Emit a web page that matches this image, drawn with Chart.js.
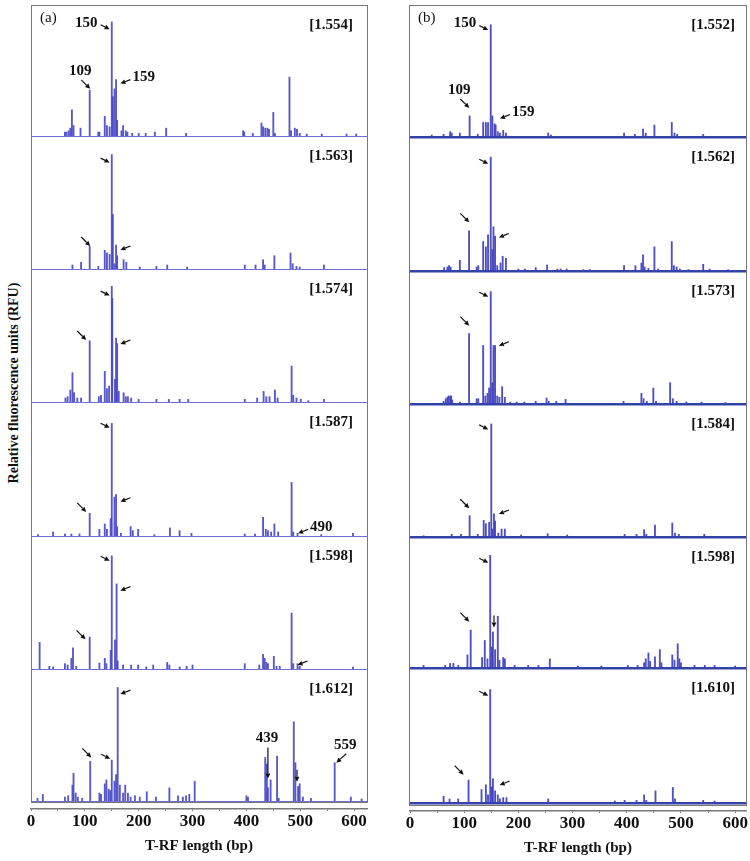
<!DOCTYPE html>
<html>
<head>
<meta charset="utf-8">
<title>T-RF profiles</title>
<script src="https://cdn.jsdelivr.net/npm/chart.js@4.4.1/dist/chart.umd.min.js"></script>
<style>
  body { margin: 0; background: #fff; }
  #fig { position: relative; width: 750px; height: 861px; overflow: hidden; background: #fff; }
  #fig canvas { position: absolute; }
  .frame { position: absolute; border: 1.5px solid #767676; box-sizing: border-box; pointer-events: none; }
  #ytitle {
    position: absolute; left: 14px; top: 383px;
    transform: translate(-50%, -50%) rotate(-90deg);
    white-space: nowrap; font: bold 14px "Liberation Serif", serif; color: #111;
  }
</style>
</head>
<body>
<div id="fig">
  <div id="ytitle">Relative fluorescence units (RFU)</div>
</div>
<script>
// T-RF length axis (bp)
const bpTicks = [0, 100, 200, 300, 400, 500, 600];
const bpMinorStep = 50;

// index shown in the corner of each profile
const tagsA = ['[1.554]', '[1.563]', '[1.574]', '[1.587]', '[1.598]', '[1.612]'];
const tagsB = ['[1.552]', '[1.562]', '[1.573]', '[1.584]', '[1.598]', '[1.610]'];

// peaks: [T-RF length (bp), relative fluorescence (% of panel height)]
// column (a)
const a1 = [[63,3],[66,3],[70,4],[73,6],[76,20],[79,8],[92,6],[109,35],[125,3],[127,3],[137,15],[141,8],[146,7],[150,87],[152,30],[155,36],[158,43],[160,12],[168,4],[171,8],[176,4],[179,3],[188,2],[200,2],[213,2],[230,3],[251,6],[288,2],[394,4],[396,3],[412,2],[428,10],[431,7],[435,6],[439,6],[442,5],[450,18],[453,2],[480,45],[483,4],[490,6],[494,5],[499,2],[512,1.5],[540,1.5],[586,1.5],[604,1.5]];
const a2 = [[77,3],[93,5],[109,17],[125,2],[137,14],[141,12],[146,11],[150,86],[152,41],[155,4],[158,18],[160,10],[172,7],[177,5],[202,1.5],[233,2],[253,3],[290,1.5],[397,3],[417,3],[431,7],[434,3],[452,10],[482,12],[486,4],[493,2],[499,1.5],[544,3]];
const a3 = [[64,3],[68,4],[73,9],[77,22],[80,7],[86,3],[93,3],[109,46],[126,4],[130,5],[137,23],[141,10],[145,12],[150,87],[151,78],[156,17],[158,48],[160,44],[163,8],[172,7],[176,4],[180,4],[186,3],[200,2],[233,2],[256,2],[276,2],[292,2],[397,2],[420,3],[432,8],[437,4],[443,4],[453,9],[458,3],[484,27],[487,5],[493,3],[501,2],[515,1],[544,2]];
const a4 = [[13,1],[41,3],[63,1.5],[75,1.5],[90,1.5],[109,17],[127,5],[137,9],[141,5],[148,13],[150,84],[155,29],[158,31],[160,7],[167,2],[185,7],[189,4],[199,5],[229,1],[258,6],[276,4],[298,2],[397,1.5],[416,1.5],[431,14],[436,5],[440,4],[446,3],[452,9],[459,3],[484,40],[487,3],[495,2],[539,1],[598,2]];
const a5 = [[16,20],[34,2],[41,1.5],[63,4],[68,3],[75,8],[78,16],[84,2],[109,24],[127,4.5],[137,8],[140,4],[148,14],[150,85],[156,22],[159,64],[161,6],[171,3],[186,3],[199,3],[214,1.5],[227,3],[253,5],[257,3],[276,1.5],[289,2],[300,3],[397,4],[424,3],[431,11],[434,8],[437,5],[440,4],[451,9.5],[456,2],[462,2],[484,42],[487,4],[495,4],[499,2],[598,1.5]];
const a6 = [[12,2],[22,5],[63,3],[69,4],[77,12],[79,21],[83,6],[87,3],[95,2],[110,30],[127,6],[130,5],[137,13],[140,16],[144,9],[147,8],[150,31],[155,15],[158,20],[161,86],[165,12],[171,6],[175,12],[180,6],[185,3],[193,4],[202,3],[215,7],[232,3],[257,10],[273,4],[282,3],[288,4],[294,5],[304,15],[400,4],[403,3],[435,33],[438,28],[440,10],[445,16],[457,34],[460,2],[488,60],[491,29],[496,11],[499,13],[505,3],[520,2],[564,29],[594,3],[614,1.5]];
// column (b)
const b1 = [[40,1.5],[62,2],[74,4],[77,3],[92,3],[110,16],[125,2],[135,11],[140,11],[144,11],[149,85],[152,16],[156,10],[158,9],[162,4],[166,3],[172,5],[177,3],[255,3],[260,1.5],[395,3],[415,2],[430,6],[435,3],[451,9],[483,11],[488,3],[493,2],[541,2]];
const b2 = [[63,2.5],[69,3],[72,4],[75,3],[92,8],[109,30],[123,3],[126,4],[135,22],[140,18],[144,27],[149,85],[152,16],[154,33],[157,26],[161,4],[167,6],[171,11],[177,9.5],[200,1.5],[212,1.5],[232,2.5],[253,4.5],[272,1.5],[278,1.5],[289,1.5],[320,1],[332,1],[395,4],[416,4],[427,6],[430,12],[433,3],[440,2],[451,18],[458,1.5],[483,22],[487,4],[492,3],[498,1.5],[514,1],[541,5],[553,1.5],[587,1]];
const b3 = [[62,2],[66,4],[69,5],[71,6],[74,6],[76,6],[78,3],[92,1.5],[109,53],[123,4],[126,4],[135,44],[139,6],[143,8],[146,12],[149,84.5],[152,16],[154,44],[157,44],[161,6],[165,5],[170,13],[175,5],[185,1.5],[197,1.5],[211,1.5],[232,2],[252,4.5],[256,2],[270,2],[287,3.5],[394,2],[427,8],[431,4],[437,2],[449,12],[454,2],[480,16],[485,4],[492,2],[510,1.5],[538,1.5],[582,1]];
const b4 = [[25,1],[77,2],[94,2],[110,16],[125,2],[136,12.5],[140,10],[146,11],[150,85],[152,6],[155,17.5],[157,12],[163,3],[169,6],[175,6],[205,1.5],[254,2.5],[290,1.5],[396,2],[418,2],[432,5.5],[436,2],[452,9],[484,10.5],[489,3],[496,2],[543,2]];
const b5 = [[25,2],[65,2],[74,3.5],[80,3.5],[89,2],[106,10],[112,29],[133,8],[138,21],[143,7],[148,86],[151,16],[153,27.5],[157,14],[162,39.5],[165,6],[172,8],[175,7],[193,2],[218,2],[237,2],[258,7],[310,1.5],[353,1.5],[402,2],[420,2],[432,4],[435,7],[440,11.5],[443,5],[452,8.5],[461,14],[464,4],[484,10],[488,6],[494,18.5],[497,7],[500,4],[525,2],[544,2],[562,2],[600,1.5]];
const b6 = [[62,5],[73,3],[89,3],[108,17],[132,10],[140,13.5],[144,6],[148,84],[151,12],[153,18],[157,9],[162,6],[166,3],[172,4],[178,4],[255,3],[378,1.5],[396,2],[418,2],[432,6],[436,2],[453,9],[485,11.5],[489,3],[541,2],[562,1.5]];

// arrows: [bp at tip, rfu at tip, kind, label, label side]
const a1Arrows = [[146,81.5,'ul2','150','left'],[110,36,'ul','109','above'],[166,40,'r','159','right']];
const a2Arrows = [[146,80,'ul2'],[110,17.3,'ul'],[166,14.3,'r']];
const a3Arrows = [[146,80,'ul2'],[102.6,46.6,'ul'],[166,43.6,'r']];
const a4Arrows = [[146,80.8,'ul2'],[102.6,18,'ul'],[166,25.6,'r'],[496,2,'r','490','right']];
const a5Arrows = [[146,81.4,'ul2'],[166,58.9,'r'],[101.3,22.3,'ul'],[495,3,'r']];
const a6Arrows = [[112,33,'ul'],[147,32,'ul2'],[166,81,'r'],[440,17,'dl','439','above'],[494,14.6,'d'],[567,29,'ur','559','above']];
const b1Arrows = [[144.4,81,'ul2','150','left'],[109.4,22,'ul','109','above'],[166,14,'r','159','right']];
const b2Arrows = [[144.4,80,'ul2'],[109.4,36.3,'ul'],[164,25,'r']];
const b3Arrows = [[144.4,80.7,'ul2'],[109.4,58.9,'ul'],[164,43.8,'r']];
const b4Arrows = [[144.4,80.9,'ul2'],[109.4,21.6,'ul'],[164,17.3,'r']];
const b5Arrows = [[144.4,80.4,'ul2'],[109.4,35.4,'ul'],[155,31,'d']];
const b6Arrows = [[144.4,79.5,'ul2'],[99,21,'ul'],[165.4,13.3,'r']];

const serif = '"Liberation Serif", "DejaVu Serif", serif';
Chart.defaults.font.family = serif;
Chart.defaults.color = '#111';

// page layout of the two columns
const columns = [
  {
    letter: '(a)', tags: tagsA, left: 31, width: 336, max: 624, top: 5,
    baselines: [136, 269, 402, 536, 669, 801],
    peaks: [a1, a2, a3, a4, a5, a6],
    arrows: [a1Arrows, a2Arrows, a3Arrows, a4Arrows, a5Arrows, a6Arrows],
    barColor: 'rgba(70,70,196,0.9)', baseColor: 'rgba(96,96,206,0.9)', baseWidth: 1,
    tagInset: 14, letterInset: 9,
    axis: { canvasLeft: 0, canvasWidth: 385, line: 809, tick: 2, titlePad: 5.6, bottomPad: 6 },
    frame: [30.5, 4.5, 337, 798]
  },
  {
    letter: '(b)', tags: tagsB, left: 410, width: 336, max: 620, top: 5,
    baselines: [137, 271, 404, 537, 668, 803],
    peaks: [b1, b2, b3, b4, b5, b6],
    arrows: [b1Arrows, b2Arrows, b3Arrows, b4Arrows, b5Arrows, b6Arrows],
    barColor: 'rgba(60,60,190,0.9)', baseColor: '#3444a6', baseWidth: 2.5,
    tagInset: 11, letterInset: 8,
    axis: { canvasLeft: 385, canvasWidth: 365, line: 811, tick: 2, titlePad: 6.1, bottomPad: 3.5 },
    frame: [409, 4.5, 338, 801]
  }
];

// tail offset from the tip, per arrow kind
const arrowKinds = { ul: [-9, -9], ul2: [-9, -4.5], r: [10, -4], ur: [10, -9], d: [0, -12], dl: [0, -31] };

const fig = document.getElementById('fig');

function addCanvas(left, top, width, height) {
  const c = document.createElement('canvas');
  c.width = width;
  c.height = height;
  c.style.left = left + 'px';
  c.style.top = top + 'px';
  c.style.width = width + 'px';
  c.style.height = height + 'px';
  fig.appendChild(c);
  return c;
}

function drawArrow(ctx, sx, sy, tx, ty) {
  const ang = Math.atan2(ty - sy, tx - sx);
  const head = 5, hw = 2.4;
  const bx = tx - head * Math.cos(ang), by = ty - head * Math.sin(ang);
  ctx.beginPath();
  ctx.moveTo(sx, sy);
  ctx.lineTo(bx, by);
  ctx.stroke();
  ctx.beginPath();
  ctx.moveTo(tx, ty);
  ctx.lineTo(bx + hw * Math.sin(ang), by - hw * Math.cos(ang));
  ctx.lineTo(bx - hw * Math.sin(ang), by + hw * Math.cos(ang));
  ctx.closePath();
  ctx.fill();
}

function drawMarks(chart, marks, col) {
  const { ctx, chartArea } = chart;
  const xs = chart.scales.x, ys = chart.scales.y;
  ctx.save();
  ctx.fillStyle = '#111';
  ctx.strokeStyle = '#111';
  ctx.lineWidth = 1.2;
  ctx.textBaseline = 'middle';

  ctx.font = 'bold 15px ' + serif;
  ctx.textAlign = 'right';
  ctx.fillText(marks.tag, chartArea.right - col.tagInset, chartArea.top + 20);

  if (marks.letter) {
    ctx.font = '15px ' + serif;
    ctx.textAlign = 'left';
    ctx.fillText(marks.letter, chartArea.left + col.letterInset, chartArea.top + 13);
  }

  ctx.font = 'bold 15px ' + serif;
  marks.arrows.forEach(a => {
    const tx = xs.getPixelForValue(a[0]);
    const ty = ys.getPixelForValue(a[1]);
    const off = arrowKinds[a[2]];
    const sx = tx + off[0], sy = ty + off[1];
    drawArrow(ctx, sx, sy, tx, ty);
    if (!a[3]) return;
    if (a[4] === 'left') {
      ctx.textAlign = 'right';
      ctx.fillText(a[3], sx - 3, sy - 2);
    } else if (a[4] === 'right') {
      ctx.textAlign = 'left';
      ctx.fillText(a[3], sx + 2, sy - 2);
    } else {
      ctx.textAlign = 'center';
      ctx.fillText(a[3], sx - 1, sy - 9);
    }
  });
  ctx.restore();
}

columns.forEach(col => {
  col.baselines.forEach((base, i) => {
    const top = i === 0 ? col.top : col.baselines[i - 1];
    const canvas = addCanvas(col.left, top, col.width, base - top + 3);
    const marks = { tag: col.tags[i], arrows: col.arrows[i], letter: i === 0 ? col.letter : null };

    new Chart(canvas, {
      type: 'bar',
      data: {
        datasets: [{
          data: col.peaks[i].map(p => ({ x: p[0], y: p[1] })),
          backgroundColor: col.barColor,
          borderWidth: 0,
          barThickness: 1.2
        }]
      },
      options: {
        responsive: false,
        animation: false,
        devicePixelRatio: 1,
        layout: { padding: { left: 0, right: 0, top: 0, bottom: 3 } },
        plugins: { legend: { display: false }, tooltip: { enabled: false } },
        scales: {
          x: {
            type: 'linear', min: 0, max: col.max, offset: false,
            ticks: { display: false },
            grid: { display: false, drawTicks: false, offset: false },
            border: { display: true, color: col.baseColor, width: col.baseWidth }
          },
          y: { display: false, min: 0, max: 100 }
        }
      },
      plugins: [{ id: 'marks', afterDatasetsDraw(chart) { drawMarks(chart, marks, col); } }]
    });
  });

  // shared T-RF length axis below each column
  const ax = col.axis;
  const axTop = 720;
  const axCanvas = addCanvas(ax.canvasLeft, axTop, ax.canvasWidth, 861 - axTop);
  new Chart(axCanvas, {
    type: 'scatter',
    data: { datasets: [] },
    options: {
      responsive: false,
      animation: false,
      devicePixelRatio: 1,
      layout: {
        padding: {
          left: col.left - ax.canvasLeft,
          right: ax.canvasLeft + ax.canvasWidth - (col.left + col.width),
          top: 0,
          bottom: ax.bottomPad
        }
      },
      plugins: { legend: { display: false }, tooltip: { enabled: false } },
      scales: {
        x: {
          type: 'linear', min: 0, max: col.max,
          ticks: {
            stepSize: bpMinorStep, autoSkip: false, maxRotation: 0, includeBounds: false, padding: 0,
            font: { size: 17, weight: 'bold' }, color: '#111',
            callback: v => bpTicks.includes(v) ? String(v) : ''
          },
          grid: { drawOnChartArea: false, drawTicks: true, tickLength: ax.tick, color: '#777', lineWidth: 1 },
          border: { display: true, color: '#777', width: 1.5 },
          title: {
            display: true, text: 'T-RF length (bp)', color: '#111',
            font: { size: 15, weight: 'bold' },
            padding: { top: ax.titlePad, bottom: 0 }
          }
        },
        y: { display: false, min: 0, max: 1 }
      }
    }
  });
});

// outer frames drawn above the traces
columns.forEach(col => {
  const f = document.createElement('div');
  f.className = 'frame';
  f.style.left = col.frame[0] + 'px';
  f.style.top = col.frame[1] + 'px';
  f.style.width = col.frame[2] + 'px';
  f.style.height = col.frame[3] + 'px';
  fig.appendChild(f);
});
</script>
</body>
</html>
